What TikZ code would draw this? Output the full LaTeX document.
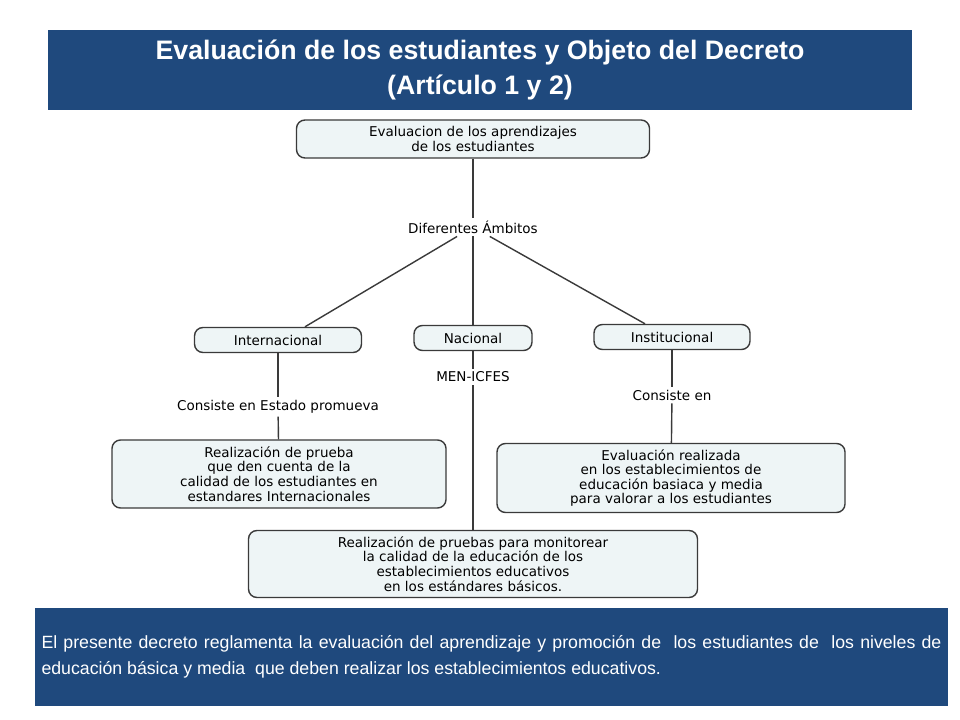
\documentclass[tikz,border=0pt]{standalone}
\usepackage{fontspec}
\setmainfont{DejaVu Sans}
\newfontfamily\titlefont{Liberation Sans}
\usetikzlibrary{positioning}
\definecolor{banner}{HTML}{1F497D}
\definecolor{boxfill}{HTML}{EEF5F6}
\definecolor{boxline}{HTML}{3A3A3A}
\tikzset{
    % Concept box style
    concept/.style={
        rectangle,
        rounded corners=6pt,
        align=center,
        font=\fontsize{9.6}{10.4}\selectfont,
        draw=boxline,
        fill=boxfill,
        line width=1pt,
        inner sep=2pt
    },
    % Link label style
    link label/.style={
        font=\fontsize{9.6}{11}\selectfont,
        fill=white,
        inner sep=2pt
    },
    % Connector style
    link/.style={
        line width=1pt,
        color=boxline
    }
}
\begin{document}
\begin{tikzpicture}[x=0.025cm, y=-0.025cm]
    \useasboundingbox (0,0) rectangle (960,720);

    % Title banner
    \node[fill=banner, minimum width=864*0.025cm, minimum height=80*0.025cm, align=center,
          text=white, font=\titlefont\bfseries\fontsize{19}{25}\selectfont] (title) at (480,70)
          {Evaluación de los estudiantes y Objeto del Decreto\\(Artículo 1 y 2)};

    % Concept boxes
    \node[concept, minimum width=353*0.025cm, minimum height=38*0.025cm] (top) at (473,139)
          {Evaluacion de los aprendizajes\\de los estudiantes};
    \node[link label] (ambitos) at (473,227) {Diferentes Ámbitos};
    \node[concept, minimum width=167*0.025cm, minimum height=25*0.025cm] (inter) at (278,340) {Internacional};
    \node[concept, minimum width=118*0.025cm, minimum height=25*0.025cm] (nac) at (473,338) {Nacional};
    \node[concept, minimum width=156*0.025cm, minimum height=25*0.025cm] (inst) at (672,337) {Institucional};

    \node[link label] (men) at (473,377) {MEN-ICFES};
    \node[link label] (estado) at (278,407) {Consiste en Estado promueva};
    \node[link label] (consiste) at (672,395) {Consiste en};

    \node[concept, minimum width=334*0.025cm, minimum height=68*0.025cm] (prueba) at (279,474)
          {Realización de prueba\\que den cuenta de la\\calidad de los estudiantes en\\estandares Internacionales};
    \node[concept, minimum width=348*0.025cm, minimum height=69*0.025cm] (evalinst) at (671,478)
          {Evaluación realizada\\en los establecimientos de\\educación basiaca y media\\para valorar a los estudiantes};
    \node[concept, minimum width=449*0.025cm, minimum height=67*0.025cm] (monitoreo) at (473,564)
          {Realización de pruebas para monitorear\\la calidad de la educación de  los\\establecimientos educativos\\en los estándares básicos.};

    % Connections
    \draw[link] (top) -- (ambitos);
    \draw[link] (ambitos) -- (inter.north -| 305,0);
    \draw[link] (ambitos) -- (nac);
    \draw[link] (ambitos) -- (inst.north -| 645,0);
    \draw[link] (nac) -- (men);
    \draw[link] (men) -- (monitoreo);
    \draw[link] (inter) -- (estado);
    \draw[link] (estado) -- (prueba);
    \draw[link] (inst) -- (consiste);
    \draw[link] (consiste) -- (evalinst);

    % Bottom banner
    \node[fill=banner, minimum width=913*0.025cm, minimum height=98*0.025cm, text=white,
          text width=900*0.025cm, align=justify, inner sep=4pt,
          font=\titlefont\fontsize{12.6}{18.5}\selectfont] (decreto) at (491.5,657)
          {El presente decreto reglamenta la evaluación del aprendizaje y promoción de \ los estudiantes de \ los niveles de educación básica y media \ que deben realizar los establecimientos educativos.};
\end{tikzpicture}
\end{document}
